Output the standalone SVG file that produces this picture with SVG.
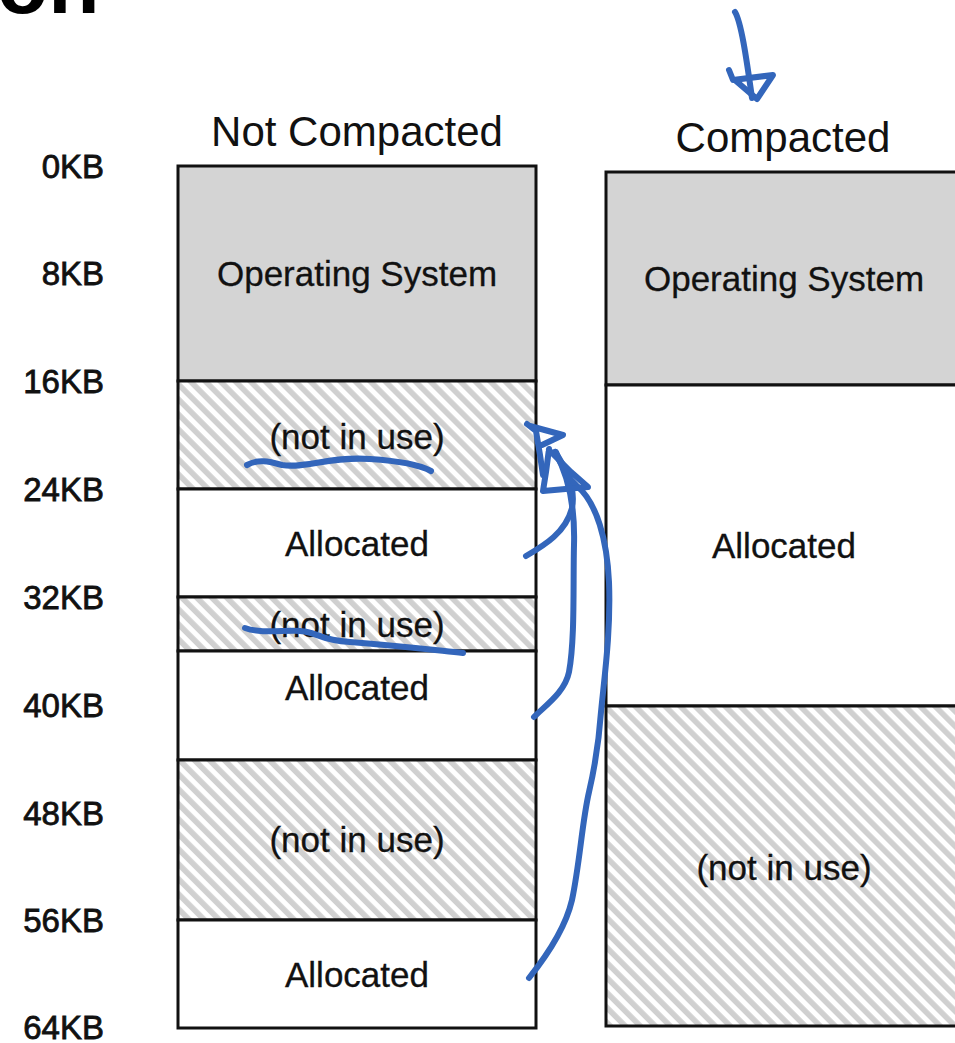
<svg xmlns="http://www.w3.org/2000/svg" width="955" height="1043" viewBox="0 0 955 1043">
  <defs>
    <!-- diagonal stripes for free (unused) memory -->
    <pattern id="hatch" patternUnits="userSpaceOnUse" width="10.6" height="10.6" patternTransform="rotate(-45)">
      <rect x="0" y="0" width="10.6" height="10.6" fill="#ffffff"/>
      <rect x="0" y="0" width="5.6" height="10.6" fill="#d0d0d0"/>
    </pattern>
    <style>
      .title { font-family: "Liberation Sans", Arial, sans-serif; font-size: 42px; fill: #111; text-anchor: middle; }
      .lbl { font-family: "Liberation Sans", Arial, sans-serif; font-size: 35px; fill: #111; text-anchor: middle; stroke: #111; stroke-width: 0.3; }
      .kb { font-family: "Liberation Sans", Arial, sans-serif; font-size: 33px; fill: #111; text-anchor: end; stroke: #111; stroke-width: 0.8; }
      .os { fill: #d4d4d4; stroke: #111; stroke-width: 3; }
      .free { fill: url(#hatch); stroke: #111; stroke-width: 3; }
      .used { fill: #ffffff; stroke: #111; stroke-width: 3; }
      .ink { fill: none; stroke: #3366bb; stroke-width: 6; stroke-linecap: round; stroke-linejoin: round; }
    </style>
  </defs>

  <rect width="955" height="1043" fill="#ffffff"/>

  <!-- heading, clipped at the top edge -->
  <text x="-3" y="13" font-family="Liberation Sans, Arial, sans-serif" font-weight="bold" font-size="84" fill="#000">on</text>

  <!-- address scale -->
  <g id="scale">
    <text class="kb" x="104" y="178">0KB</text>
    <text class="kb" x="104" y="285">8KB</text>
    <text class="kb" x="104" y="393">16KB</text>
    <text class="kb" x="104" y="501">24KB</text>
    <text class="kb" x="104" y="609">32KB</text>
    <text class="kb" x="104" y="717">40KB</text>
    <text class="kb" x="104" y="825">48KB</text>
    <text class="kb" x="104" y="932">56KB</text>
    <text class="kb" x="104" y="1039">64KB</text>
  </g>

  <!-- memory before compaction -->
  <g id="not-compacted">
    <text class="title" x="357" y="146">Not Compacted</text>
    <g id="nc-os">
      <rect class="os" x="178" y="166" width="358" height="215"/>
      <text class="lbl" x="357" y="286">Operating System</text>
    </g>
    <g id="nc-free1">
      <rect class="free" x="178" y="381" width="358" height="108"/>
      <text class="lbl" x="357" y="449">(not in use)</text>
    </g>
    <g id="nc-alloc1">
      <rect class="used" x="178" y="489" width="358" height="108"/>
      <text class="lbl" x="357" y="556">Allocated</text>
    </g>
    <g id="nc-free2">
      <rect class="free" x="178" y="597" width="358" height="54"/>
      <text class="lbl" x="357" y="637">(not in use)</text>
    </g>
    <g id="nc-alloc2">
      <rect class="used" x="178" y="651" width="358" height="109"/>
      <text class="lbl" x="357" y="700">Allocated</text>
    </g>
    <g id="nc-free3">
      <rect class="free" x="178" y="760" width="358" height="160"/>
      <text class="lbl" x="357" y="852">(not in use)</text>
    </g>
    <g id="nc-alloc3">
      <rect class="used" x="178" y="920" width="358" height="108"/>
      <text class="lbl" x="357" y="987">Allocated</text>
    </g>
  </g>

  <!-- memory after compaction -->
  <g id="compacted">
    <text class="title" x="783" y="152">Compacted</text>
    <g id="c-os">
      <rect class="os" x="606" y="172" width="360" height="213"/>
      <text class="lbl" x="784" y="291">Operating System</text>
    </g>
    <g id="c-alloc">
      <rect class="used" x="606" y="385" width="360" height="321"/>
      <text class="lbl" x="784" y="558">Allocated</text>
    </g>
    <g id="c-free">
      <rect class="free" x="606" y="706" width="360" height="320"/>
      <text class="lbl" x="784" y="880">(not in use)</text>
    </g>
  </g>

  <!-- hand-drawn annotations -->
  <g id="connectors">
    <!-- arrow pointing at the compacted layout -->
    <path class="ink" d="M735,12 C741,22 746,55 752,98"/>
    <path class="ink" d="M729,70 L733,80 L773,75 L757,99 L736,81"/>
    <!-- underlines of the free holes -->
    <path class="ink" d="M247,465 C258,459 268,461 282,465 C305,469 330,456 370,459 C400,461 420,465 431,471"/>
    <path class="ink" d="M245,628 C262,634 282,630 300,631 C318,632 318,640 350,642 C400,646 425,649 463,653"/>
    <!-- allocated blocks moving up -->
    <path class="ink" d="M526,556 C545,545 566,532 572,508 C576,488 566,468 555,452"/>
    <path class="ink" d="M534,717 C546,705 565,692 569,672 C575,640 573,585 574,545 C575,510 570,478 555,452"/>
    <path class="ink" d="M529,978 C545,958 565,930 572,900 C580,862 582,822 589,792 C596,762 599,740 601,712 C604,680 611,632 609,582 C607,540 597,503 577,486 C568,478 561,465 556,452"/>
    <!-- arrowhead scribble -->
    <path class="ink" d="M527,424 L536,431 L540,455 L543,475 M530,426 L563,435 L542,445"/>
    <path class="ink" d="M549,449 L546,472 L543,491 L588,487 L571,472 L549,450"/>
  </g>
</svg>
